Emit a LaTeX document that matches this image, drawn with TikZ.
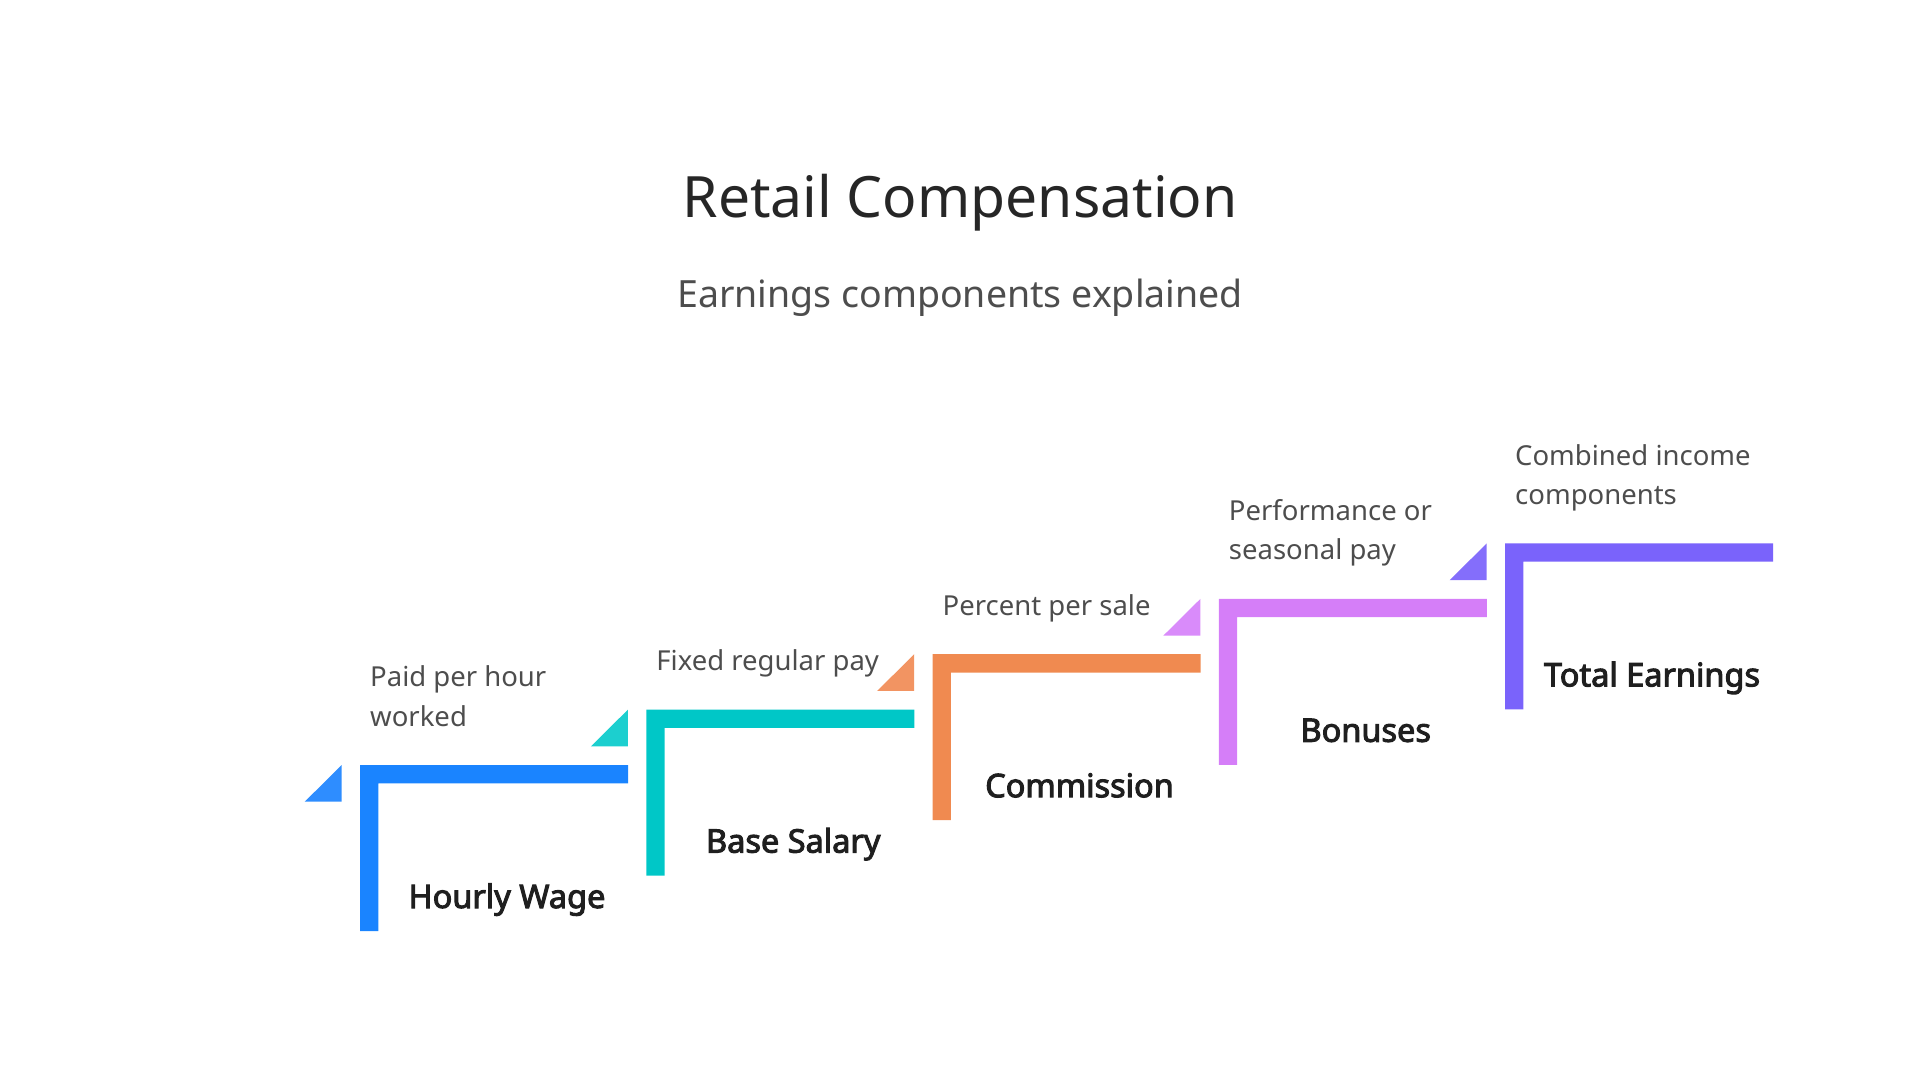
\documentclass[tikz,border=0pt]{standalone}
\usepackage{fontspec}
\setmainfont{Noto Sans}
\newfontfamily\labelfont{Noto Sans}[FakeBold=3]
\definecolor{cblue}{HTML}{1A84FF}
\definecolor{cblueT}{HTML}{2E8DFF}
\definecolor{cteal}{HTML}{00C7C7}
\definecolor{ctealT}{HTML}{1CCFCF}
\definecolor{corange}{HTML}{F08A50}
\definecolor{corangeT}{HTML}{F29462}
\definecolor{cpink}{HTML}{D57EF8}
\definecolor{cpinkT}{HTML}{D98BFA}
\definecolor{cpurple}{HTML}{7A63FB}
\definecolor{cpurpleT}{HTML}{846EFB}
\definecolor{ctitle}{HTML}{262626}
\definecolor{csub}{HTML}{4D4D4D}
\definecolor{clabel}{HTML}{1F1F1F}
\tikzset{
  titletext/.style={inner sep=0pt, anchor=base, text=ctitle, font=\fontsize{57}{66}\selectfont},
  subtext/.style={inner sep=0pt, anchor=base, text=csub, font=\fontsize{37.5}{44}\selectfont},
  desctext/.style={inner sep=0pt, anchor=base west, align=left, text=csub, font=\fontsize{27.5}{39.3}\selectfont},
  labeltext/.style={inner sep=0pt, anchor=base, text=clabel, font=\labelfont\fontsize{32.5}{38}\selectfont},
}
\newcommand{\stairstep}[6]{%
  % #1 x, #2 y, #3 bar colour, #4 triangle colour, #5 label, #6 name
  \fill[#3] (#1,#2) -- ++(268,0) -- ++(0,18.3) -- ++(-249.7,0) -- ++(0,147.7) -- ++(-18.3,0) -- cycle;
  \fill[#4] (#1-55.3,#2+36.7) -- (#1-18.3,#2+36.7) -- (#1-18.3,#2) -- cycle;
  \node[labeltext] (#6) at (#1+147,#2+143) {#5};
}
\begin{document}
\begin{tikzpicture}[x=1pt,y=-1pt]
\useasboundingbox (0,0) rectangle (1920,1080);
\node[titletext] (title) at (960,217) {Retail Compensation};
\node[subtext] (subtitle) at (960,307) {Earnings components explained};
\stairstep{360}{765}{cblue}{cblueT}{Hourly Wage}{hourly}
\stairstep{646.25}{709.6}{cteal}{ctealT}{Base Salary}{base}
\stairstep{932.5}{654.2}{corange}{corangeT}{Commission}{commission}
\stairstep{1218.75}{598.8}{cpink}{cpinkT}{Bonuses}{bonuses}
\stairstep{1505}{543.4}{cpurple}{cpurpleT}{Total Earnings}{total}
\node[desctext] (d1) at (370,726) {Paid per hour\\worked};
\node[desctext] (d2) at (656.25,670.6) {Fixed regular pay};
\node[desctext] (d3) at (942.5,615.2) {Percent per sale};
\node[desctext] (d4) at (1228.75,559.8) {Performance or\\seasonal pay};
\node[desctext] (d5) at (1515,504.4) {Combined income\\components};
\end{tikzpicture}
\end{document}
